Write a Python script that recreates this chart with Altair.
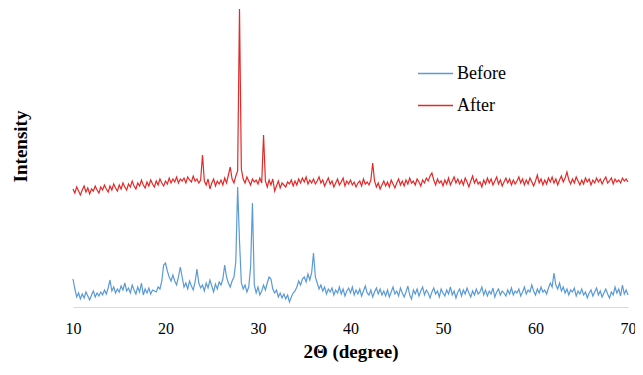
import altair as alt
import pandas as pd

# 2-theta grid, 0.2 degree steps from 10 to 70
two_theta = [round(10 + 0.2 * i, 1) for i in range(301)]

# "Before" intensities (arbitrary units), read per 1 degree (5 points each)
before = [
    28, 18, 10, 14, 8,      # 10
    13, 9, 15, 11, 7,       # 11
    12, 16, 10, 14, 11,     # 12
    15, 12, 17, 13, 19,     # 13
    27, 16, 20, 14, 18,     # 14
    15, 21, 17, 24, 16,     # 15
    19, 14, 22, 17, 13,     # 16
    20, 15, 24, 12, 18,     # 17
    14, 19, 13, 17, 16,     # 18
    15, 20, 18, 26, 42,     # 19
    44, 36, 30, 26, 32,     # 20
    26, 22, 30, 40, 30,     # 21
    20, 24, 18, 26, 21,     # 22
    17, 25, 38, 24, 19,     # 23
    22, 16, 24, 19, 27,     # 24
    21, 15, 23, 18, 25,     # 25
    22, 28, 42, 30, 24,     # 26
    20, 26, 30, 45, 120,    # 27
    66, 24, 18, 22, 15,     # 28
    20, 40, 104, 22, 14,    # 29
    20, 12, 16, 22, 17,     # 30
    24, 30, 28, 18, 14,     # 31
    17, 10, 14, 9, 13,      # 32
    8, 12, 5, 10, 14,       # 33
    16, 20, 26, 22, 28,     # 34
    30, 25, 33, 27, 34,     # 35
    54, 30, 24, 18, 22,     # 36
    16, 20, 13, 18, 15,     # 37
    19, 12, 17, 14, 20,     # 38
    13, 18, 11, 16, 19,     # 39
    14, 20, 12, 17, 13,     # 40
    18, 11, 16, 21, 14,     # 41
    12, 17, 10, 15, 19,     # 42
    13, 18, 12, 16, 11,     # 43
    17, 10, 15, 20, 13,     # 44
    16, 11, 19, 14, 10,     # 45
    15, 21, 12, 8, 17,      # 46
    13, 18, 11, 16, 20,     # 47
    12, 17, 14, 9, 15,      # 48
    19, 13, 16, 10, 18,     # 49
    14, 11, 17, 13, 20,     # 50
    12, 16, 9, 15, 18,      # 51
    11, 17, 13, 19, 14,     # 52
    10, 16, 12, 18, 13,     # 53
    15, 20, 12, 17, 11,     # 54
    16, 13, 19, 10, 15,     # 55
    18, 12, 16, 14, 11,     # 56
    17, 13, 19, 12, 16,     # 57
    14, 18, 11, 15, 20,     # 58
    13, 17, 15, 22, 16,     # 59
    12, 18, 14, 20, 15,     # 60
    17, 13, 19, 24, 20,     # 61
    34, 22, 18, 24, 16,     # 62
    20, 14, 18, 12, 17,     # 63
    15, 19, 11, 16, 13,     # 64
    18, 12, 15, 9, 14,      # 65
    17, 11, 15, 19, 12,     # 66
    16, 10, 14, 18, 13,     # 67
    9, 15, 12, 20, 14,      # 68
    18, 11, 22, 13, 17,     # 69
    12,                     # 70
]

# "After" intensities (same units, offset upward as in the figure)
after = [
    118, 114, 120, 116, 112,   # 10
    117, 121, 115, 119, 113,   # 11
    118, 116, 121, 117, 114,   # 12
    120, 117, 122, 118, 115,   # 13
    121, 117, 123, 119, 116,   # 14
    122, 118, 124, 120, 117,   # 15
    123, 120, 126, 121, 118,   # 16
    124, 121, 127, 122, 119,   # 17
    125, 121, 127, 123, 120,   # 18
    126, 122, 128, 124, 121,   # 19
    126, 123, 129, 124, 128,   # 20
    125, 130, 124, 128, 126,   # 21
    129, 124, 130, 127, 125,   # 22
    131, 126, 128, 124, 127,   # 23
    152, 126, 122, 128, 118,   # 24
    124, 128, 121, 126, 123,   # 25
    127, 122, 129, 124, 132,   # 26
    140, 128, 124, 131, 136,   # 27
    298, 138, 128, 124, 130,   # 28
    126, 122, 128, 125, 127,   # 29
    123, 129, 124, 172, 126,   # 30
    120, 127, 122, 128, 116,   # 31
    121, 126, 119, 124, 122,   # 32
    120, 125, 123, 127, 121,   # 33
    126, 122, 128, 124, 129,   # 34
    125, 130, 123, 127, 124,   # 35
    128, 123, 126, 130, 124,   # 36
    127, 121, 125, 129, 123,   # 37
    126, 120, 124, 128, 122,   # 38
    125, 129, 121, 126, 123,   # 39
    127, 122, 125, 120, 124,   # 40
    126, 121, 128, 123, 125,   # 41
    122, 127, 144, 126, 120,   # 42
    124, 118, 122, 126, 121,   # 43
    125, 120, 127, 123, 119,   # 44
    124, 128, 122, 126, 121,   # 45
    127, 123, 129, 124, 126,   # 46
    122, 128, 125, 121, 127,   # 47
    124, 129, 126, 131, 134,   # 48
    127, 122, 128, 124, 126,   # 49
    121, 127, 123, 129, 122,   # 50
    126, 130, 124, 128, 123,   # 51
    127, 122, 129, 125, 120,   # 52
    126, 131, 124, 128, 123,   # 53
    125, 120, 127, 123, 129,   # 54
    124, 128, 122, 126, 130,   # 55
    123, 127, 121, 125, 129,   # 56
    124, 128, 122, 127, 123,   # 57
    126, 130, 124, 128, 122,   # 58
    127, 123, 129, 125, 121,   # 59
    126, 132, 124, 128, 122,   # 60
    127, 123, 129, 125, 130,   # 61
    124, 128, 122, 127, 131,   # 62
    125, 129, 135, 127, 123,   # 63
    128, 124, 130, 126, 122,   # 64
    127, 123, 129, 125, 128,   # 65
    122, 127, 124, 129, 125,   # 66
    128, 123, 127, 130, 124,   # 67
    126, 129, 123, 128, 125,   # 68
    127, 124, 129, 126, 128,   # 69
    125,                       # 70
]

series_names = ["Before", "After"]
series_colors = ["#5B9BD5", "#E32A2A"]
x_ticks = [10, 20, 30, 40, 50, 60, 70]

assert len(before) == len(two_theta) and len(after) == len(two_theta)

df = pd.concat([
    pd.DataFrame({"theta": two_theta, "intensity": before, "series": "Before"}),
    pd.DataFrame({"theta": two_theta, "intensity": after, "series": "After"}),
])

serif = "Liberation Serif"

chart = alt.Chart(df).mark_line(strokeWidth=1.2, clip=False).encode(
    x=alt.X(
        "theta:Q",
        scale=alt.Scale(domain=[10, 70], nice=False, zero=False),
        axis=alt.Axis(
            values=x_ticks, title="2Θ (degree)", grid=False, ticks=False, tickSize=0,
            labelFlush=False, labelOverlap=False,
            domainColor="#D9D9D9", domainWidth=1,
            labelFont=serif, labelFontSize=16, labelColor="#000000", labelPadding=13,
            titleFont=serif, titleFontSize=19, titleFontWeight="bold", titleColor="#000000",
            titlePadding=6,
        ),
    ),
    y=alt.Y(
        "intensity:Q",
        scale=alt.Scale(domain=[0, 299], nice=False, zero=True),
        axis=alt.Axis(
            title="Intensity", labels=False, ticks=False, domain=False, grid=False,
            titleFont=serif, titleFontSize=19, titleFontWeight="bold", titleColor="#000000",
            titleX=-47, titleY=138, titleBaseline="alphabetic",
        ),
    ),
    color=alt.Color(
        "series:N",
        scale=alt.Scale(domain=series_names, range=series_colors),
        legend=alt.Legend(
            title=None, orient="none", legendX=344, legendY=47,
            symbolType="stroke", symbolSize=1225, symbolStrokeWidth=1.5,
            labelFont=serif, labelFontSize=18, labelColor="#000000", labelOffset=3,
            padding=0, rowPadding=4,
        ),
    ),
    order=alt.Order("theta:Q"),
).properties(
    width=555, height=299,
    padding={"left": 65, "top": 0, "right": 7, "bottom": 60},
    autosize=alt.AutoSizeParams(type="none"),
).configure_view(stroke=None)

chart.save("out.html", embed_options={"renderer": "svg", "actions": False})
